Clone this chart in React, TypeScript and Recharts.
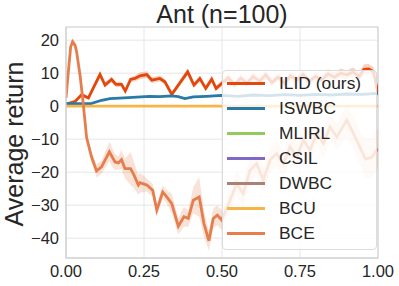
import React from 'react';
import { ComposedChart, Line, Area, XAxis, YAxis, CartesianGrid, Legend, ReferenceArea } from 'recharts';

const FONT = '"Liberation Sans", Arial, Helvetica, sans-serif';
const TEXT = '#262626';
const TITLE = 'Ant (n=100)';
const Y_LABEL = 'Average return';
const X_TICKS = [0, 0.25, 0.5, 0.75, 1];
const Y_TICKS = [-40, -30, -20, -10, 0, 10, 20];

const SERIES_NAMES = ['ILID (ours)', 'ISWBC', 'MLIRL', 'CSIL', 'DWBC', 'BCU', 'BCE'];
const SERIES_COLORS = ['#e4470c', '#2a7aa8', '#93c95e', '#8068c6', '#a98275', '#f6b545', '#e57e4c'];

const ILID_X = [0, 0.03, 0.05, 0.072, 0.09, 0.109, 0.125, 0.146, 0.16, 0.178, 0.19, 0.207, 0.221, 0.237, 0.259, 0.275, 0.301, 0.317, 0.339, 0.36, 0.39, 0.41, 0.429, 0.448, 0.467, 0.481, 0.499, 0.52, 0.54, 0.56, 0.58, 0.6, 0.62, 0.64, 0.66, 0.68, 0.7, 0.72, 0.74, 0.76, 0.78, 0.8, 0.82, 0.84, 0.86, 0.88, 0.9, 0.92, 0.94, 0.955, 0.97, 0.985, 1.0];
const ILID_Y = [0.6, 1.5, 3.5, 2.5, 6.0, 9.6, 6.4, 8.1, 6.6, 6.6, 4.6, 8.1, 8.4, 9.2, 9.6, 7.9, 8.4, 7.4, 3.6, 6.4, 10.4, 6.4, 8.4, 5.4, 8.2, 5.4, 6.9, 8.6, 6.5, 8.5, 7.0, 9.0, 7.5, 9.5, 7.2, 8.8, 7.0, 9.2, 8.0, 9.6, 7.5, 9.0, 8.0, 9.8, 8.8, 10.0, 9.5, 10.3, 9.0, 11.2, 11.3, 10.5, 4.0];
const ILID_S = [0.3, 0.4, 0.6, 0.6, 0.8, 1.0, 0.8, 0.9, 0.8, 0.8, 0.8, 0.8, 0.9, 1.0, 1.0, 0.9, 0.9, 0.8, 0.7, 0.8, 1.0, 0.9, 0.9, 0.8, 0.9, 0.8, 0.9, 1.2, 1.2, 1.2, 1.2, 1.3, 1.2, 1.3, 1.2, 1.2, 1.2, 1.3, 1.2, 1.3, 1.2, 1.3, 1.2, 1.4, 1.3, 1.4, 1.3, 1.4, 1.3, 1.5, 1.5, 1.4, 1.2];

const ISWBC_X = [0, 0.08, 0.114, 0.141, 0.2, 0.267, 0.3, 0.339, 0.36, 0.381, 0.408, 0.45, 0.5, 0.55, 0.6, 0.65, 0.7, 0.75, 0.8, 0.85, 0.9, 0.95, 1.0];
const ISWBC_Y = [0.8, 0.8, 1.8, 2.3, 2.6, 3.0, 2.9, 3.1, 2.9, 2.3, 2.8, 3.0, 3.3, 3.0, 3.4, 3.2, 3.5, 3.3, 3.6, 3.4, 3.7, 3.6, 3.9];
const ISWBC_S = [0.2, 0.2, 0.3, 0.3, 0.3, 0.3, 0.3, 0.3, 0.3, 0.3, 0.3, 0.3, 0.4, 0.4, 0.4, 0.4, 0.4, 0.4, 0.4, 0.4, 0.4, 0.4, 0.4];

const BCU_X = [0, 1.0];
const BCU_Y = [0, 0];
const BCU_S = [0.1, 0.1];

const BCE_X = [0, 0.0075, 0.015, 0.021, 0.029, 0.034, 0.045, 0.055, 0.066, 0.082, 0.098, 0.114, 0.139, 0.157, 0.168, 0.178, 0.189, 0.207, 0.218, 0.232, 0.237, 0.259, 0.278, 0.291, 0.31, 0.323, 0.339, 0.36, 0.378, 0.392, 0.408, 0.427, 0.442, 0.458, 0.472, 0.485, 0.499, 0.526, 0.547, 0.568, 0.59, 0.611, 0.632, 0.654, 0.675, 0.697, 0.718, 0.739, 0.761, 0.782, 0.804, 0.825, 0.846, 0.868, 0.9, 0.92, 0.94, 0.96, 0.98, 1.0];
const BCE_Y = [2.5, 10.4, 18, 19.5, 18.5, 16.5, 9.4, 1, -9.5, -15.4, -19.6, -18.4, -13.8, -16.9, -17.2, -16.2, -18.9, -18.9, -20.9, -23.9, -23.2, -23.9, -25.5, -31.5, -26.0, -27.5, -29.5, -36.4, -33.5, -34.0, -28.5, -27.5, -35.5, -40.8, -34.0, -33.0, -34.5, -28.5, -23.4, -26.5, -19.4, -17.4, -22.4, -16.4, -14.3, -17.4, -12.3, -15.4, -10.3, -13.3, -8.3, -11.3, -6.3, -9.3, -4.2, -8.0, -12.0, -16.0, -15.5, -12.8];
const BCE_S = [0.8, 1, 1.2, 1.2, 1.2, 1.2, 1.2, 1.2, 1.5, 1.5, 2, 2, 3, 2.5, 2, 3, 3, 5, 4, 3, 3, 2, 2, 2, 2, 2, 3, 2.5, 3, 2.5, 4, 6, 4, 3, 3, 3, 3, 3, 4, 4, 4, 4, 4, 4, 4, 4, 4, 4, 4, 4, 4, 4, 4, 4, 5, 5, 5, 6, 6, 6];

type Pt = { x: number; y: number; band: [number, number] };
const build = (xs: number[], ys: number[], ss: number[]): Pt[] =>
  xs.map((x, i) => ({ x, y: ys[i], band: [ys[i] - ss[i], ys[i] + ss[i]] }));

const SERIES = [
  { name: SERIES_NAMES[0], color: SERIES_COLORS[0], data: build(ILID_X, ILID_Y, ILID_S), bandOpacity: 0.25 },
  { name: SERIES_NAMES[1], color: SERIES_COLORS[1], data: build(ISWBC_X, ISWBC_Y, ISWBC_S), bandOpacity: 0.2 },
  { name: SERIES_NAMES[5], color: SERIES_COLORS[5], data: build(BCU_X, BCU_Y, BCU_S), bandOpacity: 0.2 },
  { name: SERIES_NAMES[6], color: SERIES_COLORS[6], data: build(BCE_X, BCE_Y, BCE_S), bandOpacity: 0.22 },
];

const fmtY = (v: number) => (v < 0 ? '\u2212' + Math.abs(v) : String(v));
const fmtX = (v: number) => v.toFixed(2);

const LegendBox = () => (
  <div
    style={{
      width: 155,
      height: 180,
      boxSizing: 'border-box',
      background: 'rgba(255,255,255,0.8)',
      border: '1px solid #dcdcdc',
      borderRadius: 4,
      fontFamily: FONT,
      fontSize: 17.4,
      color: TEXT,
    }}
  >
    {SERIES_NAMES.map((n, i) => (
      <div key={n} style={{ height: 25, display: 'flex', alignItems: 'center', lineHeight: 1 }}>
        <div style={{ marginLeft: 4, width: 38, height: 3, background: SERIES_COLORS[i] }} />
        <span style={{ marginLeft: 14 }}>{n}</span>
      </div>
    ))}
  </div>
);

export default function App() {
  return (
    <div style={{ position: 'absolute', left: 0, top: 0, width: 399, height: 286, background: '#fff' }}>
      <ComposedChart width={399} height={286} margin={{ top: 27, right: 21, bottom: 0, left: 26 }}>
        <CartesianGrid stroke="#e6e6e6" strokeWidth={1} />
        <XAxis
          type="number"
          dataKey="x"
          domain={[0, 1]}
          ticks={X_TICKS}
          tickFormatter={fmtX}
          height={28}
          tickLine={false}
          tickSize={4}
          tickMargin={3}
          axisLine={{ stroke: '#d4d4d4', strokeWidth: 1.2 }}
          tick={{ fill: TEXT, fontSize: 16.5, fontFamily: FONT }}
          allowDataOverflow
        />
        <YAxis
          type="number"
          domain={[-46, 24]}
          ticks={Y_TICKS}
          tickFormatter={fmtY}
          width={40}
          tickLine={false}
          tickSize={5}
          tickMargin={2}
          axisLine={{ stroke: '#d4d4d4', strokeWidth: 1.2 }}
          tick={{ fill: TEXT, fontSize: 16.5, fontFamily: FONT }}
          allowDataOverflow
        />
        <ReferenceArea x1={0} x2={1} y1={-46} y2={24} fill="none" fillOpacity={0} stroke="#d4d4d4" strokeWidth={1.2} />
        {SERIES.map((s) => (
          <Area
            key={'band-' + s.name}
            data={s.data}
            dataKey="band"
            type="linear"
            stroke="none"
            fill={s.color}
            fillOpacity={s.bandOpacity}
            isAnimationActive={false}
            legendType="none"
            activeDot={false}
          />
        ))}
        {SERIES.map((s) => (
          <Line
            key={'line-' + s.name}
            data={s.data}
            dataKey="y"
            name={s.name}
            type="linear"
            stroke={s.color}
            strokeWidth={2.8}
            dot={false}
            activeDot={false}
            isAnimationActive={false}
          />
        ))}
        <Legend
          layout="vertical"
          align="center"
          verticalAlign="middle"
          content={() => <LegendBox />}
          wrapperStyle={{ position: 'absolute', left: 222, top: 70, width: 155, height: 180 }}
        />
      </ComposedChart>
      <svg width={399} height={286} style={{ position: 'absolute', left: 0, top: 0, pointerEvents: 'none' }}>
        <text x={222} y={23} textAnchor="middle" fontFamily={FONT} fontSize={25} fill={TEXT}>
          {TITLE}
        </text>
        <text
          x={23}
          y={144}
          transform="rotate(-90 23 144)"
          textAnchor="middle"
          fontFamily={FONT}
          fontSize={25}
          fill={TEXT}
        >
          {Y_LABEL}
        </text>
      </svg>
    </div>
  );
}
